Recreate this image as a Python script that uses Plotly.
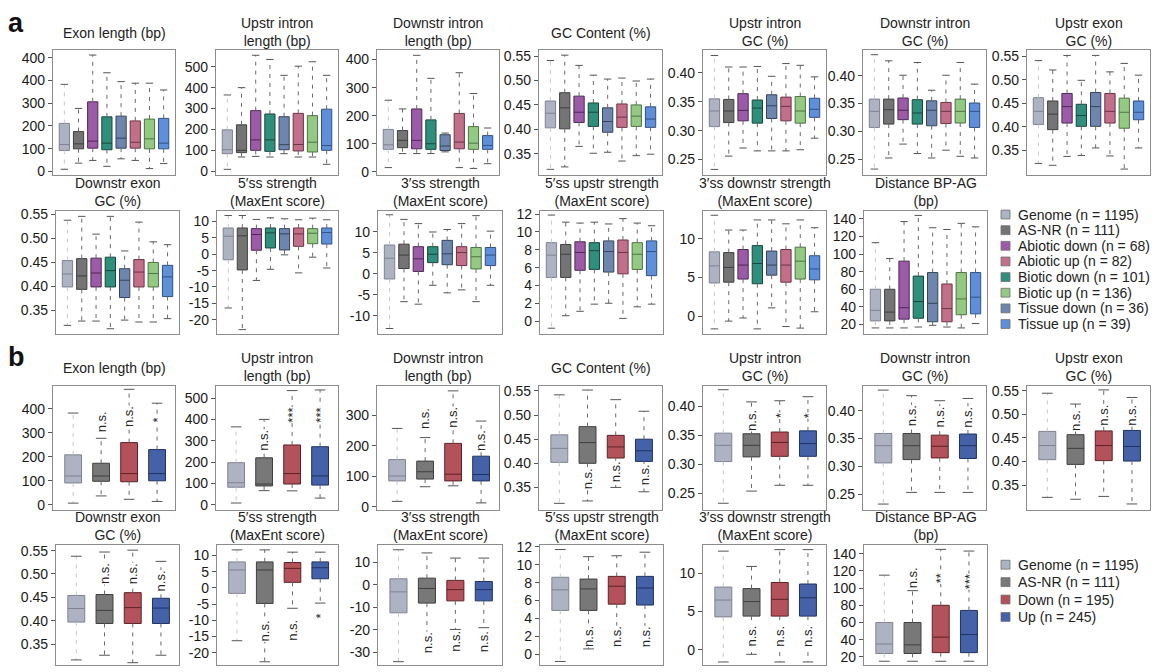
import plotly.graph_objects as go

W, H = 1152, 672
FONT = "Liberation Sans, Arial, sans-serif"

# ---------------- panel a: eight groups, box stats [lower, q1, median, q3, upper]
a_groups = ["Genome", "AS-NR", "Abiotic down", "Biotic down", "Tissue down",
            "Abiotic up", "Biotic up", "Tissue up"]
a_legend_keys = ["Genome", "AS-NR", "Abiotic down", "Abiotic up",
                 "Biotic down", "Biotic up", "Tissue down", "Tissue up"]
a_legend_labels = ["Genome (n = 1195)", "AS-NR (n = 111)", "Abiotic down (n = 68)",
                   "Abiotic up (n = 82)", "Biotic down (n = 101)", "Biotic up (n = 136)",
                   "Tissue down (n = 36)", "Tissue up (n = 39)"]

a_exon_length = [[9, 92, 118, 211, 383], [36, 99, 121, 175, 277], [48, 102, 133, 306, 512],
                 [22, 95, 124, 240, 434], [55, 102, 146, 243, 395], [48, 102, 128, 222, 388],
                 [12, 99, 143, 230, 388], [34, 99, 124, 233, 358]]
a_upstr_intron_length = [[9, 84, 103, 198, 365], [68, 89, 100, 222, 400], [71, 100, 150, 290, 555],
                         [68, 95, 150, 274, 535], [84, 103, 127, 261, 459], [68, 97, 128, 277, 503],
                         [68, 92, 139, 266, 524], [33, 100, 123, 297, 459]]
a_downstr_intron_length = [[15, 80, 96, 151, 255], [65, 86, 112, 147, 224], [65, 82, 112, 224, 415],
                           [65, 80, 100, 185, 333], [71, 76, 92, 132, 138], [15, 82, 106, 208, 353],
                           [12, 80, 102, 161, 279], [29, 80, 94, 129, 156]]
a_gc_content = [[0.318, 0.403, 0.433, 0.458, 0.541], [0.323, 0.401, 0.444, 0.475, 0.552],
                [0.365, 0.414, 0.435, 0.468, 0.531], [0.351, 0.406, 0.435, 0.454, 0.511],
                [0.353, 0.394, 0.416, 0.444, 0.503], [0.335, 0.404, 0.425, 0.452, 0.505],
                [0.346, 0.406, 0.427, 0.450, 0.499], [0.349, 0.404, 0.421, 0.446, 0.503]]
a_upstr_intron_gc = [[0.233, 0.307, 0.334, 0.355, 0.430], [0.256, 0.314, 0.334, 0.354, 0.410],
                     [0.270, 0.317, 0.335, 0.364, 0.410], [0.265, 0.313, 0.339, 0.353, 0.411],
                     [0.265, 0.321, 0.343, 0.362, 0.394], [0.265, 0.317, 0.342, 0.358, 0.416],
                     [0.267, 0.313, 0.334, 0.359, 0.413], [0.287, 0.323, 0.337, 0.356, 0.393]]
a_downstr_intron_gc = [[0.232, 0.307, 0.336, 0.358, 0.438], [0.252, 0.313, 0.339, 0.358, 0.427],
                       [0.277, 0.321, 0.338, 0.360, 0.401], [0.260, 0.313, 0.333, 0.357, 0.424],
                       [0.252, 0.310, 0.338, 0.355, 0.374], [0.266, 0.314, 0.336, 0.352, 0.401],
                       [0.255, 0.315, 0.336, 0.358, 0.424], [0.252, 0.307, 0.336, 0.351, 0.385]]
a_upstr_exon_gc = [[0.322, 0.405, 0.433, 0.462, 0.541], [0.318, 0.394, 0.427, 0.455, 0.521],
                   [0.337, 0.408, 0.443, 0.471, 0.552], [0.339, 0.401, 0.424, 0.448, 0.499],
                   [0.355, 0.401, 0.443, 0.473, 0.552], [0.338, 0.408, 0.433, 0.471, 0.517],
                   [0.310, 0.397, 0.431, 0.461, 0.535], [0.355, 0.415, 0.431, 0.455, 0.510]]
a_downstr_exon_gc = [[0.319, 0.399, 0.426, 0.454, 0.538], [0.328, 0.394, 0.422, 0.458, 0.546],
                     [0.328, 0.399, 0.428, 0.459, 0.509], [0.312, 0.399, 0.433, 0.461, 0.546],
                     [0.330, 0.377, 0.413, 0.437, 0.474], [0.326, 0.399, 0.430, 0.456, 0.534],
                     [0.326, 0.399, 0.427, 0.450, 0.493], [0.333, 0.379, 0.420, 0.444, 0.487]]
a_ss5_strength = [[-16.4, -1.7, 5.5, 8.0, 11.8], [-23.0, -4.8, 5.6, 8.0, 11.8],
                  [-8.0, 1.2, 6.0, 7.8, 10.6], [-4.6, 1.9, 6.5, 8.0, 11.1],
                  [-0.2, 1.3, 6.2, 7.8, 10.8], [-5.7, 2.4, 6.2, 8.0, 10.5],
                  [-0.9, 3.2, 6.4, 7.8, 11.0], [-4.2, 3.1, 6.6, 8.0, 10.5]]
a_ss3_strength = [[-13.0, -1.2, 3.75, 6.9, 14.1], [-6.6, 1.3, 4.5, 7.1, 13.0],
                  [-7.2, 0.6, 3.6, 6.5, 12.0], [-2.7, 2.7, 4.7, 6.5, 10.0],
                  [-4.5, 2.2, 4.8, 8.0, 10.6], [-3.8, 2.0, 5.1, 6.5, 12.0],
                  [-6.6, 1.2, 4.1, 6.3, 13.9], [-2.7, 2.0, 4.5, 6.3, 10.2]]
a_ss5_upstr_strength = [[-0.8, 4.9, 7.4, 8.8, 11.9], [0.6, 4.9, 7.5, 8.6, 11.1],
                        [1.1, 5.7, 7.7, 8.9, 11.0], [1.9, 5.8, 7.9, 8.8, 11.1],
                        [2.0, 5.5, 7.8, 9.0, 10.9], [0.3, 5.3, 7.7, 9.1, 11.5],
                        [1.6, 5.8, 7.5, 8.8, 11.0], [1.9, 5.1, 7.8, 9.0, 10.7]]
a_ss3_downstr_strength = [[-1.6, 4.3, 6.5, 8.3, 13.0], [-0.6, 4.4, 6.3, 8.2, 11.1],
                          [-0.2, 4.8, 6.6, 8.6, 11.1], [-1.6, 4.2, 6.8, 9.1, 12.4],
                          [1.1, 5.3, 6.6, 8.4, 12.4], [-1.3, 4.4, 6.6, 8.6, 11.9],
                          [-1.5, 4.8, 7.1, 8.9, 12.4], [0.6, 4.7, 6.1, 7.8, 11.4]]
a_bp_ag_distance = [[16, 24, 36, 60, 113], [16, 24, 34, 60, 95], [16, 26, 39, 92, 137],
                    [17, 27, 46, 75, 144], [19, 23, 44, 79, 130], [17, 23, 38, 66, 128],
                    [16, 31, 49, 79, 135], [21, 32, 51, 79, 131]]

# ---------------- panel b: four groups
b_groups = ["Genome", "AS-NR", "Down", "Up"]
b_legend_labels = ["Genome (n = 1195)", "AS-NR (n = 111)", "Down (n = 195)", "Up (n = 245)"]

b_exon_length = [[7, 91, 120, 208, 382], [37, 98, 120, 173, 277],
                 [23, 96, 130, 259, 481], [14, 100, 130, 230, 423]]
b_upstr_intron_length = [[8, 82, 103, 197, 365], [66, 88, 97, 220, 400],
                         [65, 97, 146, 280, 535], [31, 92, 135, 272, 538]]
b_downstr_intron_length = [[18, 85, 101, 155, 257], [66, 91, 115, 150, 227],
                           [69, 85, 107, 208, 380], [13, 85, 106, 166, 281]]
b_gc_content = [[0.317, 0.402, 0.431, 0.459, 0.542], [0.322, 0.400, 0.443, 0.476, 0.552],
                [0.350, 0.411, 0.434, 0.458, 0.532], [0.341, 0.404, 0.426, 0.450, 0.508]]
b_upstr_intron_gc = [[0.233, 0.305, 0.333, 0.354, 0.429], [0.254, 0.313, 0.333, 0.353, 0.408],
                     [0.264, 0.314, 0.338, 0.356, 0.410], [0.264, 0.314, 0.336, 0.358, 0.417]]
b_downstr_intron_gc = [[0.232, 0.306, 0.337, 0.359, 0.437], [0.253, 0.312, 0.337, 0.359, 0.427],
                       [0.253, 0.315, 0.336, 0.356, 0.418], [0.253, 0.314, 0.337, 0.358, 0.422]]
b_upstr_exon_gc = [[0.324, 0.404, 0.434, 0.464, 0.545], [0.320, 0.394, 0.428, 0.457, 0.522],
                   [0.326, 0.402, 0.434, 0.465, 0.552], [0.310, 0.401, 0.432, 0.466, 0.536]]
b_downstr_exon_gc = [[0.316, 0.397, 0.426, 0.454, 0.538], [0.326, 0.394, 0.422, 0.456, 0.547],
                     [0.310, 0.394, 0.428, 0.460, 0.551], [0.326, 0.394, 0.427, 0.448, 0.527]]
b_ss5_strength = [[-16.3, -1.7, 5.5, 8.0, 11.7], [-22.8, -4.8, 5.5, 8.0, 11.7],
                  [-6.3, 1.7, 6.0, 7.8, 11.0], [-4.7, 2.8, 6.2, 8.0, 11.0]]
b_ss3_strength = [[-34.2, -12.5, -3.2, 2.6, 15.5], [-22.3, -8.2, -1.7, 2.9, 14.1],
                  [-19.9, -7.2, -2.2, 1.9, 11.8], [-19.1, -7.2, -2.2, 1.4, 11.8]]
b_ss5_upstr_strength = [[-0.8, 4.9, 7.2, 8.6, 11.7], [0.6, 4.9, 7.3, 8.4, 10.9],
                        [1.0, 5.6, 7.6, 8.7, 11.0], [0.9, 5.5, 7.4, 8.7, 11.4]]
b_ss3_downstr_strength = [[-1.6, 4.3, 6.5, 8.2, 12.9], [-0.6, 4.4, 6.3, 8.0, 10.9],
                          [-1.6, 4.4, 6.6, 8.8, 13.1], [-1.6, 4.4, 6.8, 8.6, 13.1]]
b_bp_ag_distance = [[15, 24, 35, 60, 115], [15, 24, 34, 60, 97],
                    [15, 25, 43, 80, 145], [15, 25, 46, 74, 143]]

# significance vs. Genome for AS-NR, Down, Up: label and height of the label
b_sig_exon_length = (["n.s.", "n.s.", "*"], [344, 366, 351])
b_sig_upstr_intron_length = (["n.s.", "***", "***"], [300, 418, 418])
b_sig_downstr_intron_length = (["n.s.", "n.s.", "n.s."], [288, 292, 216])
b_sig_gc_content = (["n.s.", "n.s.", "n.s."], [0.368, 0.383, 0.377])
b_sig_upstr_intron_gc = (["n.s.", "*", "*"], [0.376, 0.385, 0.385])
b_sig_downstr_intron_gc = (["n.s.", "n.s.", "n.s."], [0.391, 0.389, 0.389])
b_sig_upstr_exon_gc = (["n.s.", "n.s.", "n.s."], [0.487, 0.499, 0.499])
b_sig_downstr_exon_gc = (["n.s.", "n.s.", "n.s."], [0.501, 0.501, 0.486])
b_sig_ss5_strength = (["n.s.", "n.s.", "*"], [-13.2, -13.1, -8.8])
b_sig_ss3_strength = (["n.s.", "n.s.", "n.s."], [-25.6, -25.2, -25.2])
b_sig_ss5_upstr_strength = (["n.s.", "n.s.", "n.s."], [2.0, 2.0, 2.0])
b_sig_ss3_downstr_strength = (["n.s.", "n.s.", "n.s."], [1.8, 1.8, 1.8])
b_sig_bp_ag_distance = (["n.s.", "**", "***"], [112, 111, 108])

# ---------------- subplot titles and y ticks
titles_row1 = [["Exon length (bp)"], ["Upstr intron", "length (bp)"],
               ["Downstr intron", "length (bp)"], ["GC Content (%)"],
               ["Upstr intron", "GC (%)"], ["Downstr intron", "GC (%)"],
               ["Upstr exon", "GC (%)"]]
titles_row2 = [["Downstr exon", "GC (%)"], ["5\u2032ss strength", "(MaxEnt score)"],
               ["3\u2032ss strength", "(MaxEnt score)"], ["5\u2032ss upstr strength", "(MaxEnt score)"],
               ["3\u2032ss downstr strength", "(MaxEnt score)"], ["Distance BP-AG", "(bp)"]]

ticks_len500 = [0, 100, 200, 300, 400, 500]
a_exon_length_ticktext = ["0", "100", "200", "300", "400", "400"]
ticks_len400 = [0, 100, 200, 300, 400]
ticks_len300 = [0, 100, 200, 300]
ticks_gc_hi = [0.35, 0.40, 0.45, 0.50, 0.55]
ticks_gc_lo = [0.25, 0.30, 0.35, 0.40]
ticks_ss5 = [-20, -15, -10, -5, 0, 5, 10]
ticks_ss3_a = [-10, -5, 0, 5, 10]
ticks_ss3_b = [-30, -20, -10, 0, 10]
ticks_ss5_upstr = [0, 2, 4, 6, 8, 10, 12]
ticks_ss3_downstr = [0, 5, 10]
ticks_bp_ag = [20, 40, 60, 80, 100, 120, 140]

# ---------------- colours
a_fill = {"Genome": "#aeb3c4", "AS-NR": "#747474", "Abiotic down": "#9c5ba6",
          "Abiotic up": "#c2708a", "Biotic down": "#2f8f7c", "Biotic up": "#94c983",
          "Tissue down": "#6e86ad", "Tissue up": "#5e8fd8"}
a_edge = {"Genome": "#7e8292", "AS-NR": "#3f3f3f", "Abiotic down": "#4f2857",
          "Abiotic up": "#6e3247", "Biotic down": "#17483f", "Biotic up": "#4d7442",
          "Tissue down": "#34445f", "Tissue up": "#2f5088"}
b_fill = {"Genome": "#aeb3c4", "AS-NR": "#787878", "Down": "#b3525a", "Up": "#4561a8"}
b_edge = {"Genome": "#7e8292", "AS-NR": "#3f3f3f", "Down": "#5e2126", "Up": "#1f3263"}

# ---------------- geometry (pixels)
row_px = {("a", 0): (45, 172), ("a", 1): (208, 333), ("b", 0): (386, 512), ("b", 1): (548, 670)}
col_px = {0: [(53, 175), (216, 338), (377, 499), (539, 662), (703, 826), (863, 986), (1027, 1150)],
          1: [(56, 179), (217, 338), (378, 502), (540, 663), (703, 826), (864, 987)]}

panels = [
    ("a", 0, 0, a_exon_length, (-17, 533), ticks_len500, a_exon_length_ticktext, None),
    ("a", 0, 1, a_upstr_intron_length, (-19, 579), ticks_len500, None, None),
    ("a", 0, 2, a_downstr_intron_length, (-12, 433), ticks_len400, None, None),
    ("a", 0, 3, a_gc_content, (0.306, 0.562), ticks_gc_hi, None, None),
    ("a", 0, 4, a_upstr_intron_gc, (0.223, 0.439), ticks_gc_lo, None, None),
    ("a", 0, 5, a_downstr_intron_gc, (0.221, 0.446), ticks_gc_lo, None, None),
    ("a", 0, 6, a_upstr_exon_gc, (0.297, 0.563), ticks_gc_hi, None, None),
    ("a", 1, 0, a_downstr_exon_gc, (0.302, 0.558), ticks_gc_hi, None, None),
    ("a", 1, 1, a_ss5_strength, (-24.2, 13.3), ticks_ss5, None, None),
    ("a", 1, 2, a_ss3_strength, (-14.2, 15.1), ticks_ss3_a, None, None),
    ("a", 1, 3, a_ss5_upstr_strength, (-1.4, 12.4), ticks_ss5_upstr, None, None),
    ("a", 1, 4, a_ss3_downstr_strength, (-2.2, 13.6), ticks_ss3_downstr, None, None),
    ("a", 1, 5, a_bp_ag_distance, (9.6, 149.5), ticks_bp_ag, None, None),
    ("b", 0, 0, b_exon_length, (-20, 496), ticks_len400, None, b_sig_exon_length),
    ("b", 0, 1, b_upstr_intron_length, (-23, 558), ticks_len500, None, b_sig_upstr_intron_length),
    ("b", 0, 2, b_downstr_intron_length, (-9, 397), ticks_len300, None, b_sig_downstr_intron_length),
    ("b", 0, 3, b_gc_content, (0.304, 0.561), ticks_gc_hi, None, b_sig_gc_content),
    ("b", 0, 4, b_upstr_intron_gc, (0.222, 0.436), ticks_gc_lo, None, b_sig_upstr_intron_gc),
    ("b", 0, 5, b_downstr_intron_gc, (0.222, 0.445), ticks_gc_lo, None, b_sig_downstr_intron_gc),
    ("b", 0, 6, b_upstr_exon_gc, (0.298, 0.561), ticks_gc_hi, None, b_sig_upstr_exon_gc),
    ("b", 1, 0, b_downstr_exon_gc, (0.305, 0.562), ticks_gc_hi, None, b_sig_downstr_exon_gc),
    ("b", 1, 1, b_ss5_strength, (-23.8, 13.2), ticks_ss5, None, b_sig_ss5_strength),
    ("b", 1, 2, b_ss3_strength, (-35.7, 17.6), ticks_ss3_b, None, b_sig_ss3_strength),
    ("b", 1, 3, b_ss5_upstr_strength, (-1.2, 12.2), ticks_ss5_upstr, None, b_sig_ss5_upstr_strength),
    ("b", 1, 4, b_ss3_downstr_strength, (-2.0, 13.7), ticks_ss3_downstr, None, b_sig_ss3_downstr_strength),
    ("b", 1, 5, b_bp_ag_distance, (10.6, 150), ticks_bp_ag, None, b_sig_bp_ag_distance),
]


def fx(px):
    return px / W


def fy(py):
    return 1 - py / H


def fmt_tick(v):
    if isinstance(v, float) and abs(v) < 1:
        return f"{v:.2f}"
    return f"{v:g}"


fig = go.Figure()
layout = {}
annotations = []
shapes = []

for k, (panel, row, col, stats, yrange, tickvals, ticktext, sig) in enumerate(panels, start=1):
    xa = "x" if k == 1 else f"x{k}"
    ya = "y" if k == 1 else f"y{k}"
    x0, x1 = col_px[row][col]
    y0, y1 = row_px[(panel, row)]

    if panel == "a":
        groups, fills, edges = a_groups, a_fill, a_edge
        xr, bw, cap = [-0.8, 7.8], 0.72, 0.26
    else:
        groups, fills, edges = b_groups, b_fill, b_edge
        xr, bw, cap = [-0.72, 3.64], 0.6, 0.19

    layout["xaxis" if k == 1 else f"xaxis{k}"] = dict(
        domain=[fx(x0), fx(x1)], anchor=ya, range=xr, showticklabels=False,
        ticks="", showgrid=False, zeroline=False, showline=True, mirror=True,
        linecolor="#8c8c8c", linewidth=1.2, fixedrange=True)
    layout["yaxis" if k == 1 else f"yaxis{k}"] = dict(
        domain=[fy(y1), fy(y0)], anchor=xa, range=list(yrange), tickmode="array",
        tickvals=tickvals, ticktext=ticktext if ticktext else [fmt_tick(v) for v in tickvals],
        ticks="outside", ticklen=4, tickcolor="#555", tickwidth=1,
        tickfont=dict(size=14, color="#1a1a1a", family=FONT),
        showgrid=False, zeroline=False, showline=True, mirror=True,
        linecolor="#8c8c8c", linewidth=1.2, fixedrange=True)

    # dashed whiskers, light for the genome background, darker for the rest
    for light in (True, False):
        wx, wy = [], []
        for i, g in enumerate(groups):
            if (g == "Genome") != light:
                continue
            lo, q1, med, q3, hi = stats[i]
            wx += [i, i, None, i, i, None]
            wy += [q3, hi, None, q1, lo, None]
        fig.add_trace(go.Scatter(
            x=wx, y=wy, mode="lines", xaxis=xa, yaxis=ya, showlegend=False,
            hoverinfo="skip",
            line=dict(color="#c6c8ce" if light else "#6a6a6a", width=1, dash="4px,5px")))

    # whisker caps
    cx, cy = [], []
    for i, g in enumerate(groups):
        lo, q1, med, q3, hi = stats[i]
        cx += [i - cap, i + cap, None, i - cap, i + cap, None]
        cy += [hi, hi, None, lo, lo, None]
    fig.add_trace(go.Scatter(x=cx, y=cy, mode="lines", xaxis=xa, yaxis=ya,
                             showlegend=False, hoverinfo="skip",
                             line=dict(color="#555555", width=1)))

    # boxes (interquartile range + median)
    for i, g in enumerate(groups):
        lo, q1, med, q3, hi = stats[i]
        fig.add_trace(go.Box(
            x=[i], q1=[q1], median=[med], q3=[q3], lowerfence=[q1], upperfence=[q3],
            width=bw, whiskerwidth=0, fillcolor=fills[g],
            line=dict(color=edges[g], width=1), xaxis=xa, yaxis=ya,
            showlegend=False, hoverinfo="skip", boxpoints=False))

    # significance labels
    if sig:
        labels, heights = sig
        for j, (lab, yv) in enumerate(zip(labels, heights), start=1):
            annotations.append(dict(
                x=j, y=yv, xref=xa, yref=ya, text=lab, showarrow=False, textangle=-90,
                font=dict(size=13, color="#222", family=FONT), bgcolor="white",
                borderpad=0, xanchor="center", yanchor="middle"))

    # subplot title (one text block, lines joined with <br>)
    titles = titles_row1 if row == 0 else titles_row2
    lines = titles[col]
    off = 18 if len(lines) == 1 else 19
    annotations.append(dict(
        x=fx((x0 + x1) / 2), y=fy(y0 - off), xref="paper", yref="paper",
        text="<br>".join(lines), showarrow=False, xanchor="center", yanchor="middle",
        align="center", font=dict(size=14, color="#222", family=FONT)))

# panel letters
for letter, ypx in (("a", 17), ("b", 357)):
    annotations.append(dict(x=fx(6), y=fy(ypx), xref="paper", yref="paper", text=f"<b>{letter}</b>",
                            showarrow=False, xanchor="left", yanchor="middle",
                            font=dict(size=27, color="#111", family=FONT)))


# legends
def add_legend(labels, keys, fills, top_px, step_px):
    for n, (lab, key) in enumerate(zip(labels, keys)):
        yc = top_px + n * step_px
        shapes.append(dict(type="rect", xref="paper", yref="paper",
                           x0=fx(1001), x1=fx(1010), y0=fy(yc + 4.5), y1=fy(yc - 4.5),
                           fillcolor=fills[key], line=dict(color="#6f6f6f", width=0.8)))
        annotations.append(dict(x=fx(1016), y=fy(yc), xref="paper", yref="paper", text=lab,
                                showarrow=False, xanchor="left", yanchor="middle",
                                font=dict(size=14, color="#222", family=FONT)))


add_legend(a_legend_labels, a_legend_keys, a_fill, 212, 15.9)
add_legend(b_legend_labels, b_groups, b_fill, 568, 17.7)

fig.update_layout(
    width=W, height=H, margin=dict(l=0, r=0, t=0, b=0),
    paper_bgcolor="white", plot_bgcolor="white",
    font=dict(family=FONT, size=14, color="#222"),
    annotations=annotations, shapes=shapes, hovermode=False, boxmode="overlay",
    **layout)

fig.write_html("out.html", config={"displayModeBar": False})
